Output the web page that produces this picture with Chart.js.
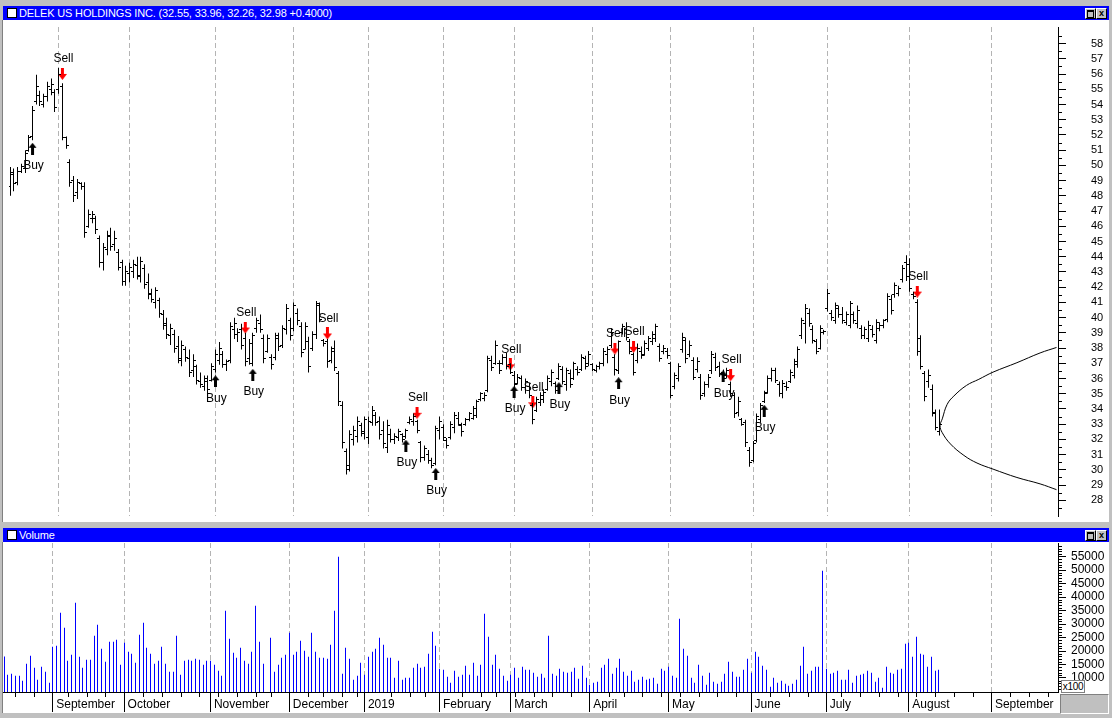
<!DOCTYPE html>
<html>
<head>
<meta charset="utf-8">
<script src="https://cdn.jsdelivr.net/npm/chart.js@4.4.1/dist/chart.umd.min.js"></script>
<style>
  body { margin: 0; width: 1112px; height: 718px; background: #c0c0c0; position: relative; overflow: hidden;
         font-family: "Liberation Sans", Arial, sans-serif; }
  .title { position: absolute; left: 3px; width: 1106px; height: 14px; background: #0000ff; color: #fff;
           font-size: 11px; line-height: 14px; }
  .title .sq { position: absolute; left: 4px; top: 2px; width: 8px; height: 8px; background: #fff; border: 1px solid #000; }
  .title .txt { position: absolute; left: 16px; top: 0; white-space: nowrap; letter-spacing: -0.15px; }
  .title .btn { position: absolute; top: 2px; width: 9px; height: 9px; background: #c0c0c0; border: 1px solid;
                border-color: #fff #000 #000 #fff; color: #000; font-size: 9px; line-height: 9px; text-align: center; font-weight: bold; }
  .title .btn.max::after { content: ""; position: absolute; left: 1px; top: 1px; width: 5px; height: 5px; border: 1px solid #000; border-top-width: 2px; }
  .panel { position: absolute; left: 3px; width: 1106px; background: #fff; border-left: 1px solid #808080; margin-left: -1px; }
  canvas { position: absolute; }
  #x100 { position: absolute; left: 1061px; top: 680px; width: 22px; height: 11px; background: #fff; border: 1px solid #808080;
          font-size: 10px; line-height: 11px; text-align: center; overflow: hidden; letter-spacing: -0.3px; }
  #corner { position: absolute; left: 1060px; top: 694px; width: 47px; height: 18px; background: #c0c0c0; border: 1px solid;
            border-color: #808080 #fff #fff #808080; }
</style>
</head>
<body>
<div class="title" style="top:6px"><div class="sq"></div><div class="txt">DELEK US HOLDINGS INC. (32.55, 33.96, 32.26, 32.98 +0.4000)</div>
  <div class="btn max" style="left:1082px"></div><div class="btn" style="left:1093px">x</div></div>
<div class="panel" style="top:20px;height:502px"></div>
<div class="title" style="top:528px"><div class="sq"></div><div class="txt">Volume</div>
  <div class="btn max" style="left:1082px"></div><div class="btn" style="left:1093px">x</div></div>
<div class="panel" style="top:542px;height:171px"></div>
<canvas id="price" width="1105" height="501" style="left:3px;top:21px;width:1105px;height:501px"></canvas>
<canvas id="volume" width="1105" height="170" style="left:3px;top:543px;width:1105px;height:170px"></canvas>
<div id="x100">x100</div>
<div id="corner"></div>
<script>
// daily bars, index 0 = mid August 2018
const highs = [
  49.9,49.8,49.9,50.1,51.0,52.0,53.9,55.95,54.9,54.7,
  55.5,55.7,55.0,56.4,55.4,51.9,50.4,49.3,49.1,48.9,
  48.9,47.1,47.0,46.7,45.4,44.9,45.7,45.9,45.7,44.5,
  43.8,43.4,43.6,43.8,44.0,44.0,43.5,42.9,41.9,42.0,
  41.3,40.5,40.0,39.6,39.2,38.8,38.5,38.1,37.9,37.6,
  36.9,36.4,36.2,36.2,37.0,37.9,38.4,37.8,37.25,39.7,
  40.0,39.3,39.6,39.0,38.6,39.0,40.0,40.2,38.9,38.9,
  37.6,39.0,39.0,39.5,40.9,40.0,41.0,40.6,39.7,39.7,
  38.75,39.1,41.1,41.0,38.6,38.6,38.1,38.5,36.5,34.5,
  31.4,32.6,32.9,33.5,33.1,33.5,33.5,34.2,33.8,33.5,
  33.2,33.3,32.7,32.4,32.7,32.4,32.7,33.5,33.7,33.3,
  31.9,31.6,31.3,30.8,32.9,33.5,33.0,32.1,33.2,33.8,
  33.8,33.1,33.4,33.8,34.2,34.6,35.1,35.1,37.5,37.5,
  38.5,37.2,37.6,37.7,37.0,36.5,36.3,36.2,36.0,35.7,
  34.4,34.8,35.1,35.3,36.2,36.6,35.8,37.0,36.8,36.7,
  36.6,37.1,36.8,37.6,37.5,37.8,37.0,36.9,37.1,38.0,
  38.1,39.3,37.6,38.5,39.6,39.7,38.6,37.7,38.3,38.1,
  38.5,38.8,39.1,39.6,38.3,38.2,38.0,37.1,36.4,37.0,
  39.0,38.7,38.5,37.4,37.4,36.3,35.8,36.3,37.8,37.7,
  37.1,36.6,36.7,35.8,35.1,34.8,33.4,33.3,31.5,31.9,
  33.7,34.4,35.2,36.2,36.7,36.7,35.8,35.9,35.8,36.6,
  37.3,38.1,40.0,40.9,40.6,39.5,38.6,39.5,39.2,41.9,
  40.5,41.0,40.8,40.7,40.4,41.1,40.4,40.8,39.5,39.4,
  39.8,39.5,39.9,39.7,39.9,41.6,41.5,42.3,42.1,43.45,
  44.1,43.9,41.7,41.2,38.85,36.5,36.6,35.6,33.96,33.96
];
const lows = [
  48.0,48.3,48.7,49.5,49.5,50.9,51.65,54.0,53.9,53.8,
  54.2,54.6,53.5,54.7,51.65,51.1,48.6,47.6,47.8,48.4,
  45.25,45.9,46.2,45.5,43.3,43.1,44.1,44.4,44.4,43.1,
  42.1,42.1,42.3,42.6,42.5,42.3,41.9,41.2,41.0,40.6,
  40.0,39.2,38.6,38.2,37.7,37.0,36.8,37.1,36.1,36.1,
  35.6,35.4,35.2,35.0,35.8,36.4,36.9,36.7,36.5,37.0,
  38.6,38.4,37.9,36.8,36.9,36.8,39.0,39.0,37.0,37.7,
  36.6,37.2,37.8,38.0,38.9,38.5,39.1,39.5,37.4,37.9,
  36.4,37.8,38.6,39.7,38.1,36.7,37.0,36.5,34.2,31.4,
  29.7,29.9,31.6,31.8,32.2,32.0,31.7,32.9,32.9,32.0,
  31.4,31.1,31.8,31.7,31.9,31.8,32.05,33.0,32.9,32.4,
  30.5,30.6,30.4,30.1,30.3,32.0,31.9,31.4,32.0,32.4,
  32.9,32.2,32.9,33.2,33.3,33.4,34.5,34.5,35.1,36.5,
  36.9,36.3,36.9,36.6,36.3,35.4,35.6,35.2,35.0,34.7,
  33.0,33.8,34.2,34.4,35.2,35.5,35.0,35.9,35.6,35.2,
  35.4,35.9,36.2,36.5,36.6,36.8,36.5,36.4,36.6,36.8,
  37.0,38.0,36.2,36.3,38.9,38.5,37.6,36.2,37.0,37.3,
  37.5,37.8,38.2,38.4,37.1,37.6,37.3,34.7,35.3,35.8,
  37.7,37.0,37.4,35.9,36.4,34.6,34.8,35.4,36.3,36.5,
  36.1,35.8,36.0,34.8,33.4,33.5,32.9,31.5,30.2,30.5,
  31.8,33.1,34.4,35.0,35.8,35.7,34.8,34.7,35.2,35.7,
  36.0,36.7,38.6,38.3,39.4,38.3,37.6,37.9,38.9,40.4,
  39.8,39.6,40.0,39.6,39.5,39.3,39.6,39.3,38.6,38.6,
  38.4,38.7,38.3,39.1,39.3,39.7,40.2,41.3,41.4,42.3,
  42.4,41.7,41.2,37.5,36.6,34.5,35.4,33.5,32.6,32.26
];
const opens = [
  48.6,49.4,48.9,49.6,49.8,51.0,51.9,54.2,54.6,54.0,
  54.5,55.0,54.8,55.0,55.2,51.8,50.2,49.0,48.2,48.8,
  48.6,46.0,46.5,46.5,45.2,43.6,44.5,45.3,44.8,44.3,
  43.6,42.4,42.9,43.0,43.4,42.7,43.2,42.3,41.6,41.0,
  41.1,40.2,39.6,38.8,38.9,38.1,37.2,37.9,37.3,36.5,
  36.8,35.8,35.5,35.8,35.9,36.6,37.2,37.6,36.9,37.2,
  39.2,38.9,39.2,38.6,37.3,37.0,39.3,39.6,38.6,37.8,
  37.4,37.4,38.6,38.2,39.2,39.8,39.3,40.3,39.4,37.9,
  38.4,38.0,38.9,40.8,38.5,38.4,37.2,38.0,36.3,34.2,
  31.2,30.3,32.0,32.2,32.9,32.4,32.1,33.1,33.6,33.2,
  32.6,31.5,32.3,32.0,32.1,32.3,32.2,33.1,33.2,33.2,
  31.8,30.8,31.0,30.6,30.4,32.6,32.8,31.9,32.1,32.8,
  33.4,32.9,33.0,33.3,33.4,33.6,34.6,34.7,35.2,37.2,
  37.0,37.0,37.0,37.4,36.9,36.2,35.7,36.0,35.4,35.5,
  34.2,33.9,34.4,34.6,35.3,35.8,35.7,36.0,36.6,35.6,
  36.3,36.0,36.6,36.6,37.3,37.0,36.9,36.5,36.8,37.0,
  37.6,38.2,37.4,36.5,39.0,39.2,38.4,37.6,37.2,37.8,
  37.6,38.0,38.4,38.6,38.1,37.8,37.8,37.0,35.5,36.0,
  37.9,38.5,37.6,37.2,36.6,36.1,35.0,35.6,36.5,37.4,
  36.8,36.4,36.2,35.6,34.9,33.8,33.3,33.1,31.3,30.6,
  31.9,33.3,34.5,35.1,36.0,36.5,35.6,35.0,35.5,35.8,
  36.2,36.9,38.8,39.6,40.3,39.2,38.4,38.0,39.0,40.6,
  40.3,39.8,40.6,40.2,39.7,39.5,40.2,39.6,39.3,38.8,
  38.6,39.2,38.5,39.3,39.5,39.9,41.2,41.5,41.6,42.5,
  43.6,43.5,41.5,41.0,38.6,36.3,35.8,35.3,33.7,32.55
];
const closes = [
  49.5,48.8,49.6,49.9,50.8,51.8,53.6,55.2,54.2,54.5,
  55.2,55.3,53.8,56.0,51.8,51.3,48.9,48.0,48.9,48.6,
  45.6,46.8,46.8,45.8,43.6,44.6,45.4,44.7,45.2,43.3,
  42.4,43.0,43.3,43.5,42.8,43.7,42.2,41.5,41.2,41.8,
  40.3,39.5,38.9,39.3,38.0,37.3,38.2,37.4,36.4,37.2,
  35.9,35.6,36.0,35.3,36.8,37.6,38.0,36.9,37.1,39.4,
  39.6,39.0,38.2,37.1,38.3,38.8,39.8,39.2,37.3,38.6,
  36.9,38.8,38.1,39.3,40.6,38.8,40.8,39.8,37.7,39.4,
  36.8,38.9,40.9,39.9,38.3,37.1,37.8,36.7,34.5,31.8,
  30.0,32.3,32.6,33.2,32.5,33.3,33.2,33.9,33.1,32.3,
  31.7,32.9,32.0,32.2,32.5,32.0,32.6,33.3,33.5,32.6,
  30.8,31.4,30.6,30.3,32.7,33.2,32.1,31.6,33.0,33.6,
  33.0,32.5,33.3,33.7,34.0,34.5,35.0,34.9,37.3,36.7,
  38.2,36.5,37.4,36.8,36.4,35.6,36.1,35.4,35.8,34.9,
  33.3,34.6,34.9,35.1,36.0,36.4,35.2,36.8,35.8,36.5,
  35.6,37.0,36.4,37.4,36.8,37.6,36.6,36.8,37.0,37.8,
  37.9,39.0,36.6,38.4,39.4,38.7,37.8,36.4,38.0,37.5,
  38.3,38.6,38.9,39.4,37.3,38.0,37.5,34.9,36.2,36.8,
  38.7,37.3,38.2,36.1,37.1,34.9,35.6,36.1,37.6,36.7,
  36.3,36.0,36.5,35.0,33.7,34.5,33.0,31.8,30.5,31.7,
  33.5,34.2,35.0,36.0,36.5,35.9,35.0,35.7,35.4,36.4,
  37.1,37.9,39.8,40.6,39.6,38.5,37.8,39.3,39.1,41.6,
  40.0,40.8,40.2,39.8,40.2,40.9,39.8,40.5,38.8,39.2,
  39.5,38.9,39.7,39.5,39.8,41.4,40.5,42.1,41.9,43.2,
  42.7,41.9,41.4,37.8,36.8,34.8,36.2,33.8,32.8,32.98
];
// volume in hundreds of shares
const volumes = [
  18000,11200,11580,10840,10840,8985,15284,18248,13802,9356,
  14172,12320,8244,21583,21953,34180,28622,16396,18620,37884,
  17877,13802,16766,16766,25658,29734,20842,16025,23435,23435,
  24176,14914,23065,19730,18989,15654,26028,30475,21212,18989,
  15284,16396,21583,15284,12320,12320,25658,11208,16396,16766,
  16396,17137,16766,14914,16396,16396,14914,12690,10838,34920,
  24546,19360,17507,21212,16396,15284,19730,36773,23435,15284,
  4000,24917,12320,14914,17507,18620,26770,18620,19730,23805,
  20100,17877,26770,19730,17507,17507,17137,22323,34920,54927,
  11580,21212,17137,9356,10838,
  15654,11208,17877,19730,20842,24917,22323,17507,17507,10097,
  16396,9356,10097,10097,13802,15284,13802,14172,18989,27140,
  21953,13432,13061,10468,8244,12690,10468,11208,14543,11208,
  15654,10838,14914,33809,25288,14914,18620,13432,10838,8985,
  11208,13802,10097,14172,13061,13061,11950,10468,11580,10097,
  25658,11580,10838,13432,12320,11950,12320,13802,9727,14543,
  10097,7504,8244,8615,13802,14914,17137,11580,13802,17137,
  12320,10838,12690,8615,9356,10468,9356,9727,10097,7874,
  13432,12690,14172,10838,10097,31956,20842,18248,10097,8244,
  14914,10838,7504,
  11950,8615,7874,8615,11580,16025,12320,10468,10468,13061,
  17137,11950,19730,17877,14543,13061,6762,10097,8244,8985,
  7874,7133,7874,9356,14543,21583,11580,12690,14172,14172,
  49740,13432,11580,11950,12690,9356,9356,13061,8244,10838,
  11208,11580,12690,11950,8615,10097,6392,14172,11950,11580,
  13061,13432,22694,23065,17877,25288,18989,18620,14172,17877,
  12690,13061
];
const monthStarts = [13, 32, 55, 76, 96, 116, 135, 156, 177, 199, 219, 241, 263];
const monthLabels = ['September', 'October', 'November', 'December', '2019', 'February', 'March',
                     'April', 'May', 'June', 'July', 'August', 'September'];
const weekTicks = [3, 8, 17, 22, 27, 37, 42, 47, 52, 57, 62, 67, 71, 81, 85, 90, 94, 103, 108, 112, 122, 127,
                   131, 136, 141, 146, 151, 161, 165, 170, 175, 180, 185, 190, 195, 204, 209, 214, 223, 228,
                   233, 238, 243, 248, 253, 258, 268, 273, 278];
const priceTicks = [28, 29, 30, 31, 32, 33, 34, 35, 36, 37, 38, 39, 40, 41, 42, 43, 44, 45, 46, 47, 48, 49,
                    50, 51, 52, 53, 54, 55, 56, 57, 58];
const volumeTicks = [10000, 15000, 20000, 25000, 30000, 35000, 40000, 45000, 50000, 55000];
// signals: bar index and price at the arrow centre
const buyIdx = [6, 55, 65, 106, 114, 135, 147, 163, 191, 202];
const buyAt = [51.09, 35.82, 36.24, 31.59, 29.73, 35.12, 35.37, 35.69, 36.15, 33.88];
const sellIdx = [14, 63, 85, 109, 134, 140, 162, 167, 193, 243];
const sellAt = [56.01, 39.35, 38.96, 33.75, 36.93, 34.44, 37.97, 38.08, 36.22, 41.71];
// projection curve
const curveX = [280.3, 275.9, 269.7, 263.3, 259.5, 256.2, 252.8, 251.0, 249.7, 249.1,
                249.7, 251.9, 255.5, 259.0, 263.3, 269.7, 275.9, 280.3];
const curveY = [38.04, 37.68, 37.04, 36.42, 35.95, 35.55, 34.85, 34.3, 33.35, 32.9,
                32.44, 31.7, 30.95, 30.45, 30.05, 29.5, 29.08, 28.7];

Chart.defaults.font.family = '"Liberation Sans", Arial, sans-serif';
Chart.defaults.color = '#000';

function makeArrow(up, color) {
  const c = document.createElement('canvas');
  c.width = 9; c.height = 12;
  const g = c.getContext('2d');
  g.fillStyle = color;
  g.beginPath();
  if (up) {
    g.moveTo(4.5, 0); g.lineTo(8.5, 5); g.lineTo(6, 5); g.lineTo(6, 12); g.lineTo(3, 12); g.lineTo(3, 5); g.lineTo(0.5, 5);
  } else {
    g.moveTo(3, 0); g.lineTo(6, 0); g.lineTo(6, 6); g.lineTo(9, 6); g.lineTo(4.5, 12); g.lineTo(0, 6); g.lineTo(3, 6);
  }
  g.closePath();
  g.fill();
  return c;
}
const buyArrow = makeArrow(true, '#000');
const sellArrow = makeArrow(false, '#ff0000');

// snap the bars (and their open/close ticks) to whole pixels so they stay crisp
const snapBars = {
  id: 'snapBars',
  beforeDatasetsDraw(chart) {
    const bars = chart.getDatasetMeta(0).data;
    bars.forEach(b => { b.x = Math.floor(b.x) + 0.5; });
    if (chart.data.datasets.length > 2) {
      chart.getDatasetMeta(1).data.forEach((p, j) => { p.x = bars[j].x - 1.5; p.y = Math.floor(p.y) + 0.5; });
      chart.getDatasetMeta(2).data.forEach((p, j) => { p.x = bars[j].x + 1.5; p.y = Math.floor(p.y) + 0.5; });
    }
  }
};

// short unlabeled ticks on the right axis
const minorTicks = {
  id: 'minorTicks',
  afterDraw(chart, args, opts) {
    const s = chart.scales.y;
    const ctx = chart.ctx;
    ctx.save();
    ctx.strokeStyle = '#000';
    ctx.lineWidth = 1;
    ctx.beginPath();
    for (let k = Math.ceil(s.min / opts.step); k * opts.step <= s.max; k++) {
      const v = k * opts.step;
      if (Math.abs(v / opts.major - Math.round(v / opts.major)) < 1e-6) continue;
      const y = Math.round(s.getPixelForValue(v)) + 0.5;
      ctx.moveTo(s.left, y);
      ctx.lineTo(s.left + opts.len, y);
    }
    ctx.stroke();
    ctx.restore();
  }
};

const signalText = {
  id: 'signalText',
  afterDatasetsDraw(chart) {
    const ctx = chart.ctx;
    ctx.save();
    ctx.font = '12px "Liberation Sans", Arial, sans-serif';
    ctx.fillStyle = '#000';
    ctx.textAlign = 'center';
    ctx.textBaseline = 'middle';
    chart.getDatasetMeta(4).data.forEach(p => ctx.fillText('Buy', p.x + 1, p.y + 17));
    chart.getDatasetMeta(5).data.forEach(p => ctx.fillText('Sell', p.x + 1, p.y - 15));
    ctx.restore();
  }
};

const weekMarks = {
  id: 'weekMarks',
  afterDraw(chart) {
    const s = chart.scales.x;
    const ctx = chart.ctx;
    ctx.save();
    ctx.strokeStyle = '#000';
    ctx.lineWidth = 1;
    ctx.beginPath();
    weekTicks.forEach(v => {
      const x = Math.round(s.getPixelForValue(v)) + 0.5;
      ctx.moveTo(x, s.top);
      ctx.lineTo(x, s.top + 5);
    });
    ctx.stroke();
    ctx.restore();
  }
};

const xMin = -0.3, xMax = 280.7;

new Chart(document.getElementById('price'), {
  type: 'bar',
  data: {
    datasets: [
      {
        type: 'bar',
        data: highs.map((h, i) => ({ x: i, y: [lows[i], h] })),
        backgroundColor: '#000',
        barThickness: 1,
        inflateAmount: 0
      },
      {
        type: 'scatter',
        data: opens.map((o, i) => ({ x: i - 0.27, y: o })),
        pointStyle: 'line', pointRadius: 1, pointBorderColor: '#000', pointBorderWidth: 1
      },
      {
        type: 'scatter',
        data: closes.map((c, i) => ({ x: i + 0.27, y: c })),
        pointStyle: 'line', pointRadius: 1, pointBorderColor: '#000', pointBorderWidth: 1
      },
      {
        type: 'line',
        data: curveX.map((x, i) => ({ x: x, y: curveY[i] })),
        borderColor: '#000', borderWidth: 1, pointRadius: 0, tension: 0.4, fill: false
      },
      {
        type: 'scatter',
        data: buyIdx.map((x, i) => ({ x: x, y: buyAt[i] })),
        pointStyle: buyArrow, pointRadius: 5
      },
      {
        type: 'scatter',
        data: sellIdx.map((x, i) => ({ x: x, y: sellAt[i] })),
        pointStyle: sellArrow, pointRadius: 5
      }
    ]
  },
  options: {
    responsive: false,
    animation: false,
    layout: { padding: 0 },
    plugins: { legend: { display: false }, tooltip: { enabled: false }, minorTicks: { step: 0.5, major: 1, len: 4 } },
    scales: {
      x: {
        type: 'linear', min: xMin, max: xMax, offset: false,
        afterBuildTicks: ax => { ax.ticks = monthStarts.map(v => ({ value: v })); },
        afterFit: ax => { ax.height = 0; ax.paddingLeft = 0; ax.paddingRight = 0; },
        ticks: { display: false },
        grid: { offset: false, color: '#b4b4b4', drawTicks: false },
        border: { display: false, dash: [5, 3] }
      },
      y: {
        position: 'right', min: 26.97, max: 59.09,
        afterBuildTicks: ax => { ax.ticks = priceTicks.map(v => ({ value: v })); },
        afterFit: ax => { ax.width = 50; ax.paddingTop = 0; ax.paddingBottom = 0; },
        ticks: { autoSkip: false, font: { size: 11 }, padding: 25, color: '#000', callback: v => String(v) },
        grid: { drawOnChartArea: false, tickLength: 8, tickColor: '#000' },
        border: { color: '#000' }
      }
    }
  },
  plugins: [snapBars, minorTicks, signalText]
});

new Chart(document.getElementById('volume'), {
  type: 'bar',
  data: {
    datasets: [{
      data: volumes.map((v, i) => ({ x: i, y: v })),
      backgroundColor: '#0000ff',
      barThickness: 1,
      inflateAmount: 0
    }]
  },
  options: {
    responsive: false,
    animation: false,
    layout: { padding: 0 },
    plugins: { legend: { display: false }, tooltip: { enabled: false }, minorTicks: { step: 1000, major: 5000, len: 4 } },
    scales: {
      x: {
        type: 'linear', min: xMin, max: xMax, offset: false,
        afterBuildTicks: ax => { ax.ticks = monthStarts.map(v => ({ value: v })); },
        afterFit: ax => { ax.height = 21; ax.paddingLeft = 0; ax.paddingRight = 0; },
        ticks: {
          autoSkip: false, maxRotation: 0, align: 'start', padding: -15, font: { size: 12 }, color: '#000',
          callback: v => { const k = monthStarts.indexOf(v); return k >= 0 ? ' ' + monthLabels[k] : ''; }
        },
        grid: { offset: false, color: '#b4b4b4', tickColor: '#000', tickLength: 20 },
        border: { color: '#000', dash: [5, 3] }
      },
      y: {
        position: 'right', min: 4800, max: 60050,
        afterBuildTicks: ax => { ax.ticks = volumeTicks.map(v => ({ value: v })); },
        afterFit: ax => { ax.width = 50; ax.paddingTop = 0; ax.paddingBottom = 0; },
        ticks: { autoSkip: false, font: { size: 12 }, padding: 5, color: '#000', callback: v => String(v) },
        grid: { drawOnChartArea: false, tickLength: 8, tickColor: '#000' },
        border: { color: '#000' }
      }
    }
  },
  plugins: [snapBars, minorTicks, weekMarks]
});
</script>
</body>
</html>
